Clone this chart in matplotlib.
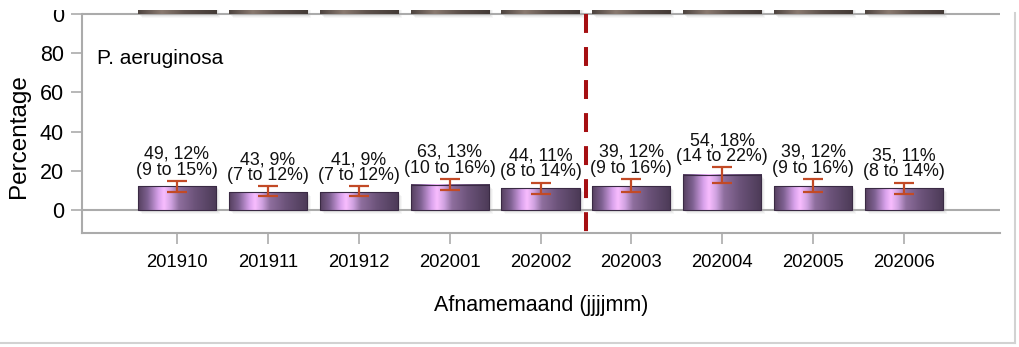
import numpy as np
import matplotlib
matplotlib.use("Agg")
import matplotlib.pyplot as plt
from matplotlib.colors import LinearSegmentedColormap
from matplotlib.patches import Rectangle
from matplotlib.lines import Line2D
import matplotlib.transforms as mtransforms

# ---------------- data ----------------
months = ["201910", "201911", "201912", "202001", "202002",
          "202003", "202004", "202005", "202006"]
n_isolates = [49, 43, 41, 63, 44, 39, 54, 39, 35]
pct = [12, 9, 9, 13, 11, 12, 18, 12, 11]
ci_low = [9, 7, 7, 10, 8, 9, 14, 9, 8]
ci_high = [15, 12, 12, 16, 14, 16, 22, 16, 14]
# previous panel (cut off at top of image); only its bar bases are visible
prev_panel_pct = [60, 60, 60, 60, 60, 60, 60, 60, 60]
panel_title = "P. aeruginosa"
yticks = [0, 20, 40, 60, 80, 100]
ytick_labels = ["0", "20", "40", "60", "80", "0"]
intervention_after = "202002"

plt.rcParams['font.family'] = ['Liberation Sans', 'DejaVu Sans']

W, H = 1019, 347
fig = plt.figure(figsize=(W / 100, H / 100), dpi=100)
fig.patch.set_facecolor("white")

def fx(px):
    return px / W

def fy(py):
    return 1 - py / H

ax_left, ax_right, ax_top, ax_bot = 82, 1000, 10, 233
ax = fig.add_axes([fx(ax_left), fy(ax_bot), (ax_right - ax_left) / W, (ax_bot - ax_top) / H])

ppu = 1.96  # pixels per percentage unit
y0 = -(ax_bot - 210) / ppu
y1 = 100 + (14 - ax_top) / ppu
spacing = 90.875
x0 = -(177 - ax_left) / spacing
x1 = 8 + (ax_right - 904) / spacing

grey = "#ababab"
x = np.arange(len(months))
bw = 0.86

cmap = LinearSegmentedColormap.from_list("bar", [
    (0.0, "#56405f"), (0.12, "#7d6090"), (0.26, "#d9a2ec"), (0.33, "#f9bdff"),
    (0.42, "#cfa2e0"), (0.52, "#8f6f9e"), (0.72, "#6c537a"), (1.0, "#4b3a56")])
cmap_prev = LinearSegmentedColormap.from_list("prev", [
    (0.0, "#4e4440"), (0.3, "#8a7a70"), (0.6, "#5e524c"), (1.0, "#433a36")])
grad = np.linspace(0, 1, 256).reshape(1, -1)

for i, (xi, p) in enumerate(zip(x, pct)):
    for k, a in enumerate([0.10, 0.08, 0.06]):
        off = mtransforms.offset_copy(ax.transData, fig=fig, x=2 + k, y=-(2 + k), units="dots")
        ax.add_patch(Rectangle((xi - bw / 2, 0), bw, p, facecolor="#808080",
                               edgecolor="none", alpha=a, transform=off, zorder=1.5))
    ax.imshow(grad, cmap=cmap, extent=[xi - bw / 2, xi + bw / 2, 0, p],
              aspect="auto", interpolation="bicubic", zorder=3)
    ax.add_patch(Rectangle((xi - bw / 2, 0), bw, p, facecolor="none",
                           edgecolor="#3a2a44", lw=0.8, zorder=4))

for xi, p in zip(x, prev_panel_pct):
    for k, a in enumerate([0.10, 0.08, 0.06]):
        off = mtransforms.offset_copy(ax.transData, fig=fig, x=2 + k, y=-(2 + k), units="dots")
        ax.add_patch(Rectangle((xi - bw / 2, 100), bw, p, facecolor="#808080",
                               edgecolor="none", alpha=a, transform=off, zorder=1.5))
    ax.imshow(grad, cmap=cmap_prev, extent=[xi - bw / 2, xi + bw / 2, 100, 100 + p],
              aspect="auto", interpolation="bicubic", zorder=3)

pct_a = np.array(pct)
lo_a = np.array(ci_low)
hi_a = np.array(ci_high)
ax.errorbar(x, pct_a, yerr=[pct_a - lo_a, hi_a - pct_a], fmt="none",
            ecolor="#c24a26", elinewidth=1.6, capsize=7, capthick=1.6, zorder=5)

for xi, n, p, lo, hi in zip(x, n_isolates, pct, ci_low, ci_high):
    ax.annotate(f"{n}, {p}%\n({lo} to {hi}%)", (xi, hi), xytext=(0, 1.5),
                textcoords="offset points", ha="center", va="bottom",
                fontsize=12.8, linespacing=0.9, color="#111111", zorder=6)

ax.axhline(0, color=grey, lw=1.5, zorder=2)
ax.axhline(100, color=grey, lw=1.5, zorder=2)
xd = months.index(intervention_after) + 0.5
ax.plot([xd, xd], [100, y0], color="#a50f12", lw=2.9, dashes=(4.7, 3.5),
        solid_capstyle="butt", dash_capstyle="butt", zorder=6, clip_on=False)

ax.set_xlim(x0, x1)
ax.set_ylim(y0, y1)
for s in ["top", "right"]:
    ax.spines[s].set_visible(False)
for s in ["left", "bottom"]:
    ax.spines[s].set_color(grey)
    ax.spines[s].set_linewidth(1.5)
ax.spines["left"].set_bounds(y0, 100)

ax.set_xticks(x)
ax.set_xticklabels(months, fontsize=13.3)
ax.set_yticks(yticks)
ax.set_yticklabels(ytick_labels, fontsize=15.5)
ax.tick_params(axis="x", length=8, width=1.2, color=grey, pad=7)
ax.tick_params(axis="y", length=8, width=1.2, color=grey, pad=5)

fig.text(fx(97), fy(59), panel_title, ha="left", va="center", fontsize=15)
fig.text(fx(19), fy(136), "Percentage", rotation=90, ha="center", va="center", fontsize=17.5)
fig.text(fx(541), fy(305), "Afnamemaand (jjjjmm)", ha="center", va="center", fontsize=15.5)

fig.add_artist(Line2D([fx(1015), fx(1015)], [fy(13), fy(343)], color="#d2d2d2", lw=1.5,
                      transform=fig.transFigure))
fig.add_artist(Line2D([0, fx(1015)], [fy(343), fy(343)], color="#d2d2d2", lw=1.5,
                      transform=fig.transFigure))
fig.add_artist(Rectangle((0, fy(10)), fx(ax_left), 10 / H, transform=fig.transFigure,
                         facecolor="white", edgecolor="none", zorder=10))

fig.savefig("out.png", dpi=100)
